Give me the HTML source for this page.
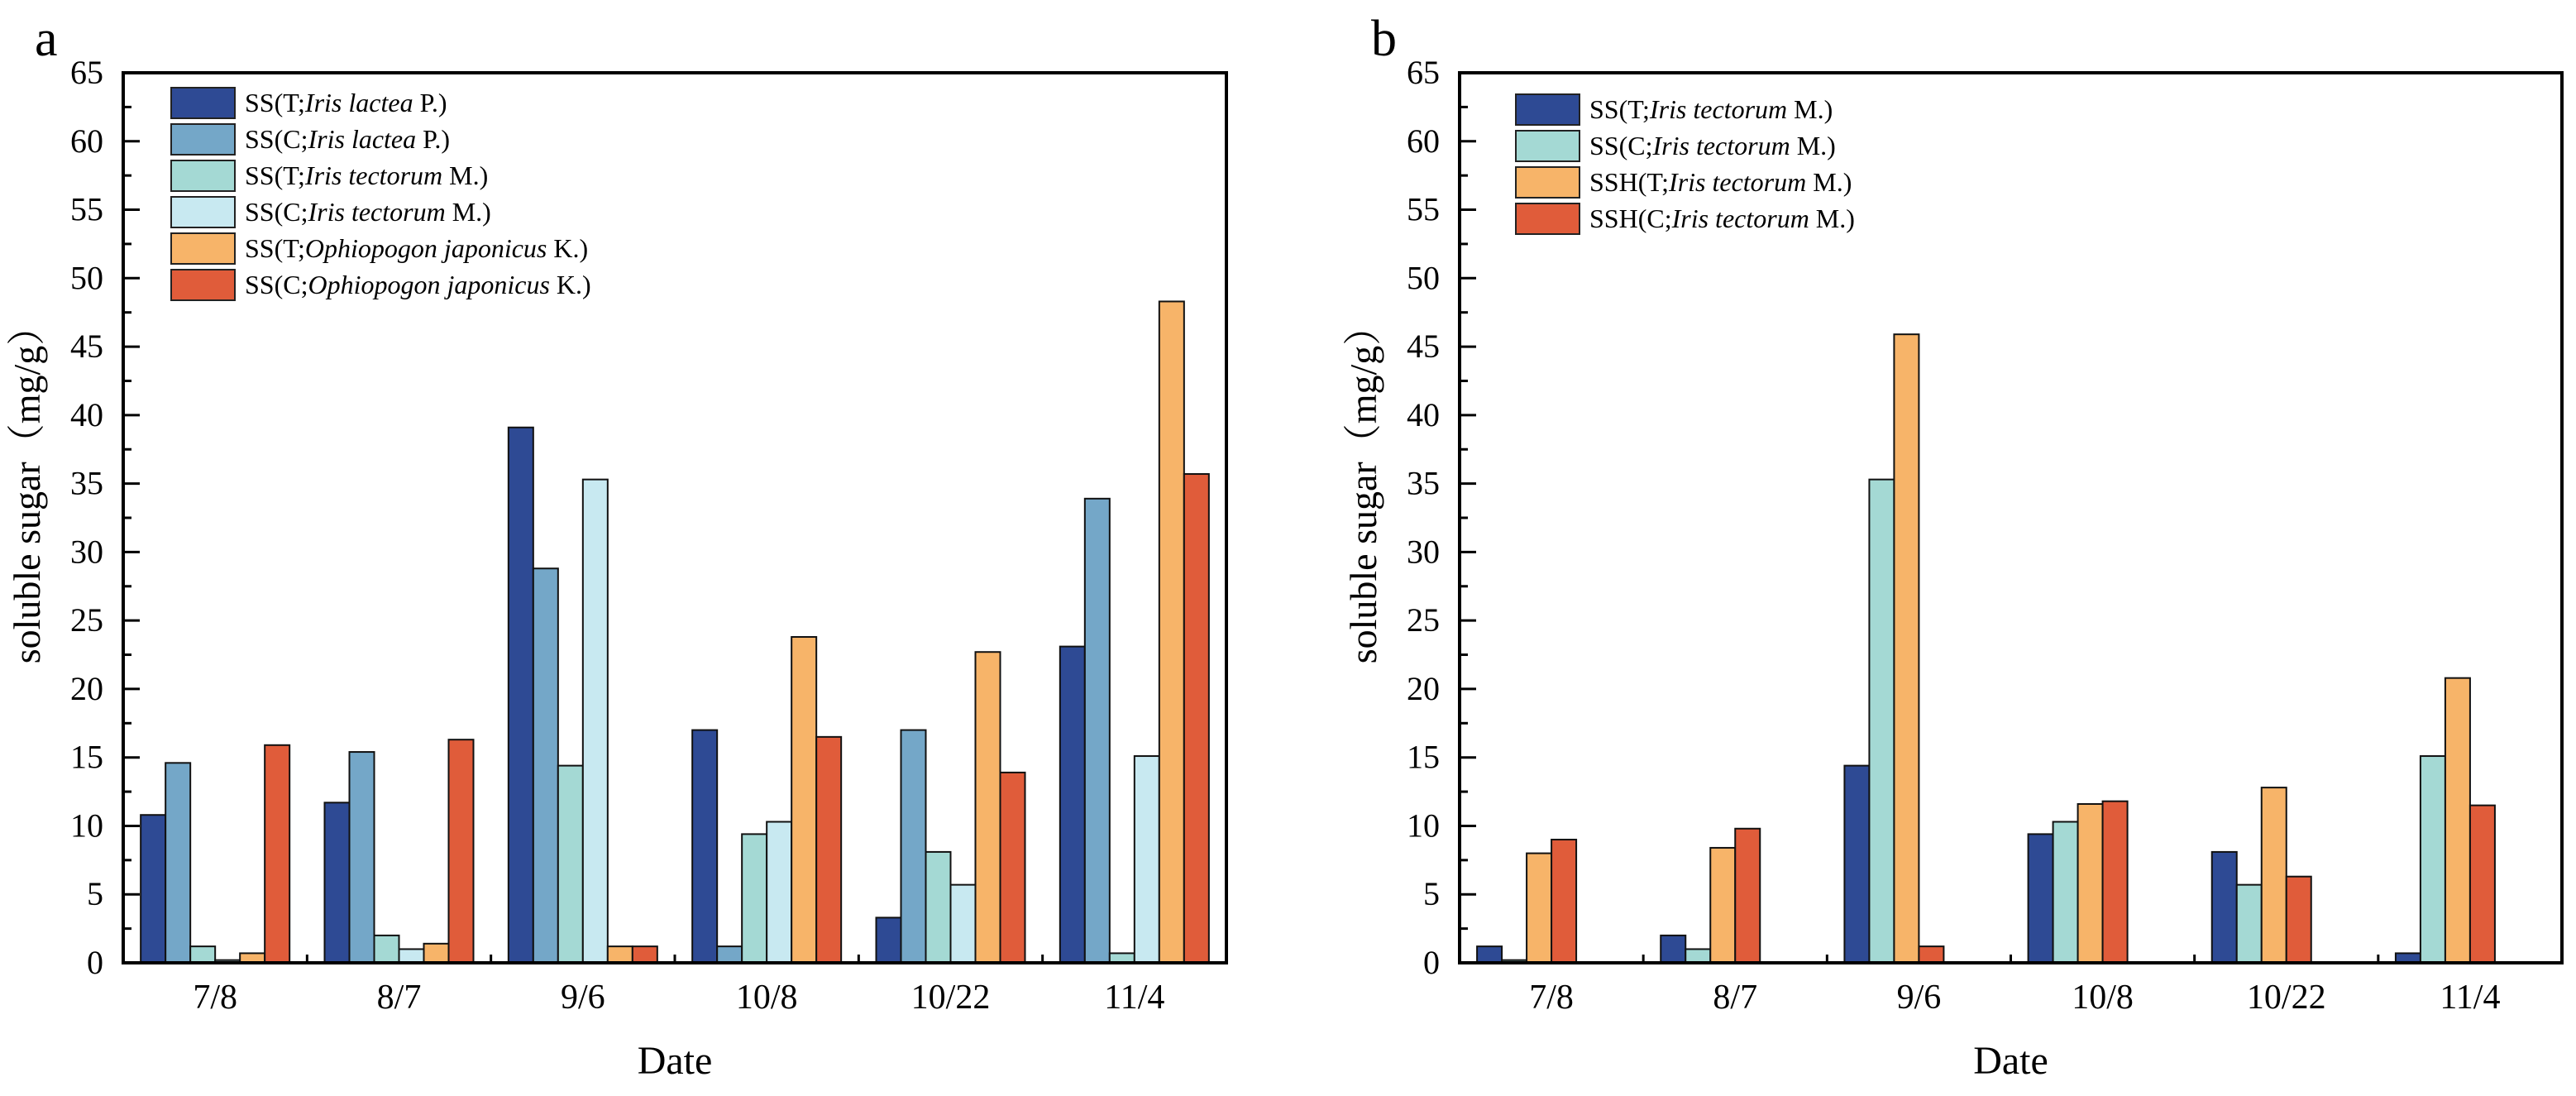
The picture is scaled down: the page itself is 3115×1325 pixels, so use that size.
<!DOCTYPE html>
<html><head><meta charset="utf-8"><style>
html,body{margin:0;padding:0;background:#fff;}
svg{display:block;font-family:"Liberation Serif",serif;}
</style></head><body>
<svg id="chart" width="3115" height="1325" xmlns="http://www.w3.org/2000/svg"></svg>
<script>
const categories = ["7/8","8/7","9/6","10/8","10/22","11/4"];
const yTicks = [0,5,10,15,20,25,30,35,40,45,50,55,60,65];
// Panel a series
const aLacteaT = [10.8,11.7,39.1,17.0,3.3,23.1];
const aLacteaC = [14.6,15.4,28.8,1.2,17.0,33.9];
const aTectorumT = [1.2,2.0,14.4,9.4,8.1,0.7];
const aTectorumC = [0.2,1.0,35.3,10.3,5.7,15.1];
const aOphioT = [0.7,1.4,1.2,23.8,22.7,48.3];
const aOphioC = [15.9,16.3,1.2,16.5,13.9,35.7];
// Panel b series
const bSsT = [1.2,2.0,14.4,9.4,8.1,0.7];
const bSsC = [0.2,1.0,35.3,10.3,5.7,15.1];
const bSshT = [8.0,8.4,45.9,11.6,12.8,20.8];
const bSshC = [9.0,9.8,1.2,11.8,6.3,11.5];

const NS="http://www.w3.org/2000/svg";
const svg=document.getElementById('chart');
function mk(tag,attrs,parent){const e=document.createElementNS(NS,tag);for(const k in attrs)e.setAttribute(k,attrs[k]);(parent||svg).appendChild(e);return e;}

const colors={dark:"#2e4a94",steel:"#74a7c8",teal:"#a4d9d4",pale:"#c8e9f1",orange:"#f7b469",red:"#e05c3a"};

function panel(p){
  const g=mk('g',{});
  
  
  const L=p.left,R=p.right,T=88,B=1164;
  const y=v=>B-(v/65)*(B-T);
  const gw=(R-L)/categories.length, bw=30;
  // panel letter
  const lt=mk('text',{x:p.letterX,y:67,'font-size':62},g);lt.textContent=p.letter;
  
  
  // y ticks
  for(let v=0;v<=65;v+=2.5){
    const major=v%5===0;
    const t=mk('line',{x1:L,x2:L+(major?20:10),y1:y(v),y2:y(v),stroke:'#000','stroke-width':3},g);
    
    
  }
  yTicks.forEach(v=>{
    const t=mk('text',{x:L-24,y:y(v)+13,'font-size':40,'text-anchor':'end'},g);t.textContent=v;
    
    
  });
  // bars
  p.series.forEach((s,si)=>{
    s.values.forEach((v,ci)=>{
      const x=L+gw*ci+gw/2-90+si*bw;
      const r=mk('rect',{x:x,y:y(v),width:bw,height:B-y(v),fill:s.color,stroke:'#111','stroke-width':2},g);
      
      
    });
  });
  // x labels and ticks
  categories.forEach((c,ci)=>{
    const t=mk('text',{x:L+gw*ci+gw/2,y:1219,'font-size':42,'text-anchor':'middle'},g);t.textContent=c;
    
    
    if(ci>0){
      const tk=mk('line',{x1:L+gw*ci,x2:L+gw*ci,y1:B,y2:B-10,stroke:'#000','stroke-width':3},g);
      
      
    }
  });
  // frame
  const f=mk('rect',{x:L,y:T,width:R-L,height:B-T,fill:'none',stroke:'#000','stroke-width':4},g);
  
  
  // axis titles
  const xt=mk('text',{x:(L+R)/2,y:1298,'font-size':48,'text-anchor':'middle'},g);xt.textContent='Date';
  
  
  const yt=mk('text',{x:0,y:0,'font-size':46,'text-anchor':'middle',transform:`translate(${p.ytX},587) rotate(-90)`,'font-family':'"Liberation Serif","Noto Serif CJK SC",serif'},g);
  yt.textContent='soluble sugar（mg/g）';
  
  
  // legend
  p.series.forEach((s,si)=>{
    const ly=p.legTop+si*44;
    const lg=mk('g',{},g);
    
    
    mk('rect',{x:p.legX,y:ly,width:77,height:37,fill:s.color,stroke:'#222','stroke-width':2},lg);
    const tx=mk('text',{x:p.legX+89,y:ly+29,'font-size':32},lg);
    tx.innerHTML=s.label;
  });
}

panel({name:'panel-a',letter:'a',letterX:42,left:149,right:1483,ytX:48,legX:207,legTop:106,series:[
  {key:'ss-t-lactea',values:aLacteaT,color:colors.dark,label:'SS(T;<tspan font-style="italic">Iris lactea</tspan> P.)'},
  {key:'ss-c-lactea',values:aLacteaC,color:colors.steel,label:'SS(C;<tspan font-style="italic">Iris lactea</tspan> P.)'},
  {key:'ss-t-tectorum',values:aTectorumT,color:colors.teal,label:'SS(T;<tspan font-style="italic">Iris tectorum</tspan> M.)'},
  {key:'ss-c-tectorum',values:aTectorumC,color:colors.pale,label:'SS(C;<tspan font-style="italic">Iris tectorum</tspan> M.)'},
  {key:'ss-t-ophiopogon',values:aOphioT,color:colors.orange,label:'SS(T;<tspan font-style="italic">Ophiopogon japonicus</tspan> K.)'},
  {key:'ss-c-ophiopogon',values:aOphioC,color:colors.red,label:'SS(C;<tspan font-style="italic">Ophiopogon japonicus</tspan> K.)'}
]});
panel({name:'panel-b',letter:'b',letterX:1658,left:1765,right:3098,ytX:1664,legX:1833,legTop:114,series:[
  {key:'ss-t-tectorum',values:bSsT,color:colors.dark,label:'SS(T;<tspan font-style="italic">Iris tectorum</tspan> M.)'},
  {key:'ss-c-tectorum',values:bSsC,color:colors.teal,label:'SS(C;<tspan font-style="italic">Iris tectorum</tspan> M.)'},
  {key:'ssh-t-tectorum',values:bSshT,color:colors.orange,label:'SSH(T;<tspan font-style="italic">Iris tectorum</tspan> M.)'},
  {key:'ssh-c-tectorum',values:bSshC,color:colors.red,label:'SSH(C;<tspan font-style="italic">Iris tectorum</tspan> M.)'}
]});
</script>
</body></html>
